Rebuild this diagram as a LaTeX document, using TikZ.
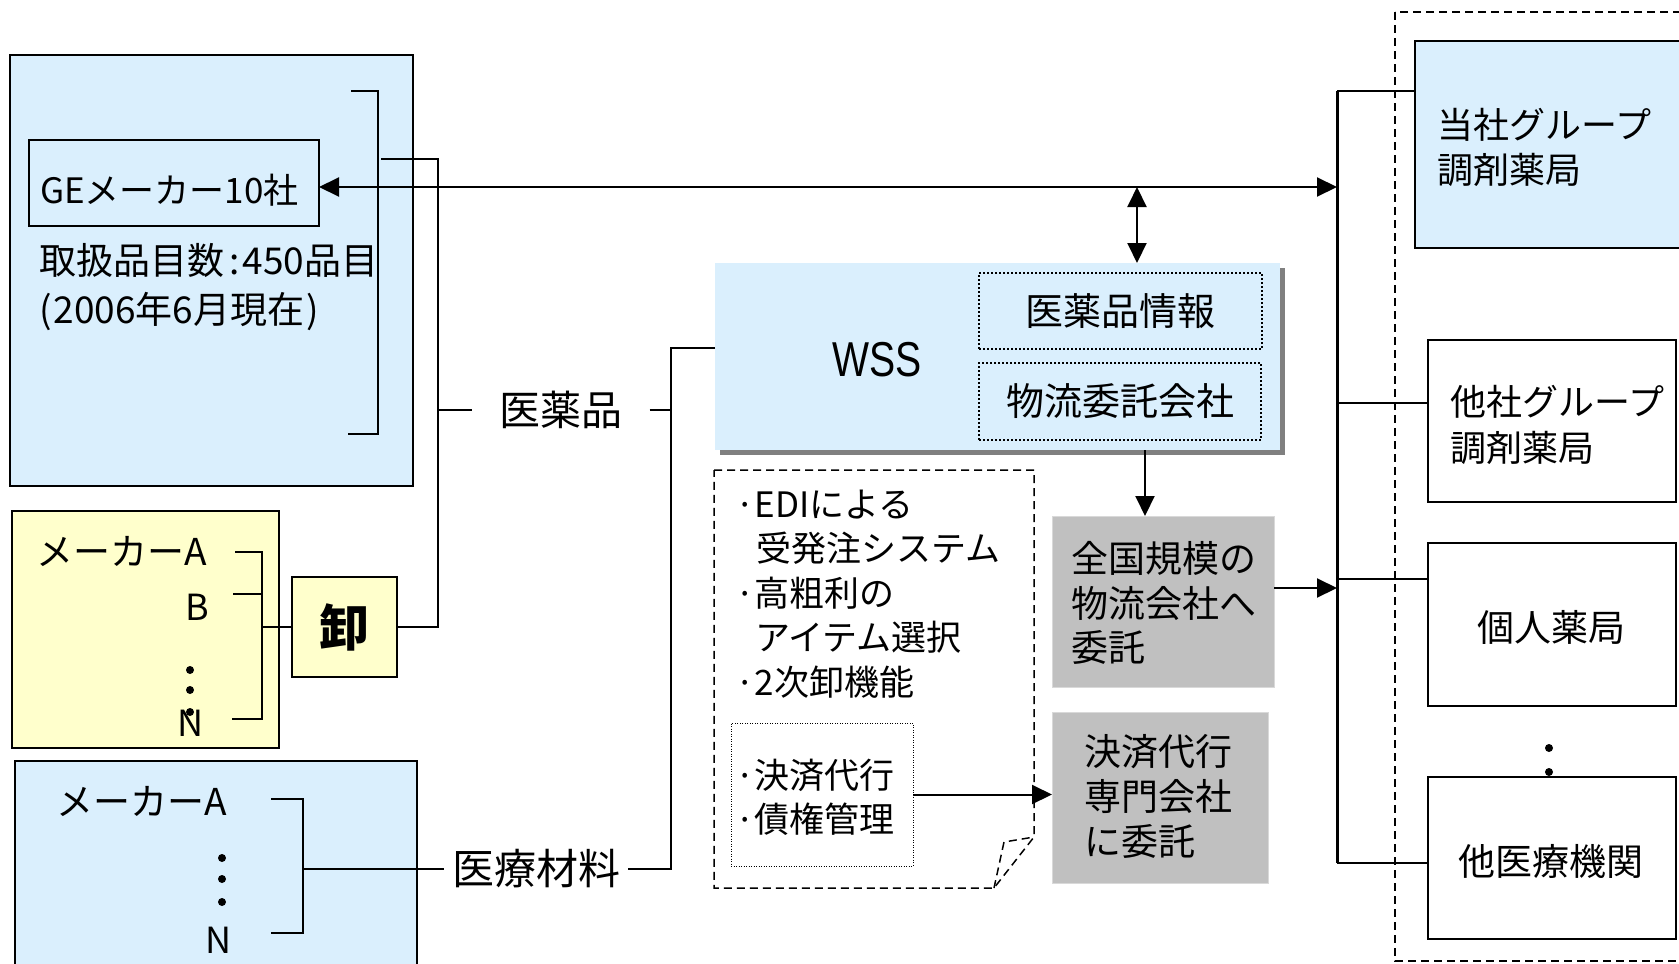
\documentclass[tikz,border=0pt]{standalone}
\usepackage{graphicx}
\usepackage{fontspec}
\setmainfont{Noto Sans CJK JP}
\newfontfamily\arialfont{Liberation Sans}
\usetikzlibrary{arrows.meta}
\definecolor{lblue}{RGB}{218,239,253}
\definecolor{lyel}{RGB}{255,255,204}
\definecolor{gbox}{RGB}{192,192,192}
\definecolor{shad}{RGB}{128,128,128}
\newcommand\fs[2]{\fontsize{#1}{#2}\selectfont}
\tikzset{
  ln/.style={line width=2pt},
  thinln/.style={line width=1.5pt},
  rbox/.style={anchor=north west, inner sep=0pt, outer sep=0pt, line width=2pt},
  arr/.style={line width=2pt, -{Triangle[length=20pt,width=19pt]}},
  darr/.style={line width=2pt, {Triangle[length=20pt,width=19pt]}-{Triangle[length=20pt,width=19pt]}},
  txt/.style={inner sep=0pt, anchor=west, align=left},
  dotbox/.style={draw, line width=2pt, dash pattern=on 2pt off 2pt},
  dashline/.style={line width=1.5pt, dash pattern=on 8pt off 5pt},
  dotdot/.style={fill, circle, inner sep=0pt, minimum size=8pt},
}
\begin{document}
\begin{tikzpicture}[x=1pt,y=-1pt]
\useasboundingbox (0,0) rectangle (1679,964);
\clip (0,0) rectangle (1679,964);

% ---------- left: GE makers
\node[rbox, draw, fill=lblue, minimum width=403pt, minimum height=431pt] (gebig) at (10,55) {};
\node[rbox, draw, minimum width=290pt, minimum height=86pt] (ge) at (29,140) {};
\node[txt, font=\fs{35}{42}] (getxt) at (40,190) {GEメーカー10社};
\node[txt, font=\fs{37}{49}] (geinfo) at (39,287) {取扱品目数\hspace{5pt}:\hspace{3pt}450品目\\(\hspace{2pt}2006年6月現在\hspace{2pt})};
\draw[ln] (351,91) -- (378,91) -- (378,434) -- (348,434);

% ---------- yellow makers + wholesaler
\node[rbox, draw, fill=lyel, minimum width=267pt, minimum height=237pt] (yel) at (12,511) {};
\node[txt, font=\fs{37}{44}] (ymA) at (36,551) {メーカーA};
\node[txt, font=\fs{36}{44}] (ymB) at (185,607) {B};
\node[dotdot] (yd1) at (190,670) {};
\node[dotdot] (yd2) at (190,690) {};
\node[dotdot] (yd3) at (190,712) {};
\node[txt, font=\fs{36}{44}] (ymN) at (177,723) {N};
\node[rbox, draw, fill=lyel, minimum width=105pt, minimum height=100pt, font=\fs{50}{56}\bfseries] (oroshi) at (292,577) {卸};
\draw[thinln] (235,552) -- (262,552) -- (262,719) -- (232,719);
\draw[thinln] (233,594) -- (262,594);
\coordinate (yb) at (262,627);
\draw[ln] (yb) -- (oroshi.west);

% ---------- lower blue makers
\node[rbox, draw, fill=lblue, minimum width=402pt, minimum height=230pt] (bl) at (15,761) {};
\node[txt, font=\fs{37}{44}] (bmA) at (56,801) {メーカーA};
\node[dotdot] (bd1) at (222,858) {};
\node[dotdot] (bd2) at (222,879) {};
\node[dotdot] (bd3) at (222,902) {};
\node[txt, font=\fs{36}{44}] (bmN) at (205,940) {N};
\draw[thinln] (271,799) -- (303,799) -- (303,933) -- (271,933);

% ---------- labels
\node[inner sep=0pt, inner xsep=27pt, font=\fs{41}{46}] (iyaku) at (561,410) {医薬品};
\node[inner sep=0pt, inner xsep=8pt, font=\fs{42}{46}] (iryo) at (536,869) {医療材料};

% ---------- connectors left
\coordinate (gb) at (381,159);
\coordinate (gj) at (438,159);
\draw[ln] (gb) -- (gj) -- (gj |- oroshi.east) -- (oroshi.east);
\draw[ln] (gj |- iyaku.west) -- (iyaku.west);
\draw[ln] (303,869) -- (iryo.west);

% ---------- WSS
\node[rbox, fill=lblue, minimum width=565pt, minimum height=187pt,
      preaction={fill=shad, transform canvas={xshift=5pt,yshift=-5pt}}] (wss) at (715,263) {};
\node[inner sep=0pt, font=\arialfont\fs{49}{52}] (wsstxt) at (877,360) {\scalebox{0.8}[1]{WSS}};
\node[rbox, dotbox, minimum width=283pt, minimum height=76pt, font=\fs{38}{44}] (info) at (979,273) {医薬品情報};
\node[rbox, dotbox, minimum width=282pt, minimum height=77pt, font=\fs{38}{44}] (logi) at (979,363) {物流委託会社};

\coordinate (wj) at (671,348);
\draw[ln] (wj -| wss.west) -- (wj) -- (wj |- iryo.east) -- (iryo.east);
\draw[ln] (iyaku.east) -- (iyaku.east -| wj);

% ---------- note
\draw[dashline] (714,470) -- (1034,470) -- (1034,837) -- (994,888) -- (714,888) -- cycle;
\draw[dashline] (994,888) -- (1004,842) -- (1034,837);
\node[txt, font=\fs{35}{44.5}] (notetxt) at (735,594) {·EDIによる\\\hspace*{21pt}受発注システム\\·高粗利の\\\hspace*{20pt}アイテム選択\\·2次卸機能};
\node[rbox, draw, line width=1pt, dash pattern=on 1pt off 1.5pt, minimum width=182pt, minimum height=143pt] (setl) at (731,723) {};
\node[txt, font=\fs{35}{44}] (setltxt) at (735,797) {·決済代行\\·債権管理};

% ---------- gray boxes
\node[rbox, fill=gbox, draw=gbox!60, line width=1pt, minimum width=222pt, minimum height=171pt] (zen) at (1052,516) {};
\node[txt, font=\fs{37}{44.5}] (zentxt) at (1071,603) {全国規模の\\物流会社へ\\委託};
\node[rbox, fill=gbox, draw=gbox!60, line width=1pt, minimum width=216pt, minimum height=171pt] (kes) at (1052,712) {};
\node[txt, font=\fs{37}{45}] (kestxt) at (1084,796) {決済代行\\専門会社\\に委託};

% ---------- right side
\draw[dashline] (1395,12) rectangle (1720,961);
\node[rbox, draw, fill=lblue, minimum width=300pt, minimum height=207pt] (tosha) at (1415,41) {};
\node[txt, font=\fs{36}{45}] (toshatxt) at (1437,147) {当社グループ\\調剤薬局};
\node[rbox, draw, fill=white, minimum width=248pt, minimum height=162pt] (tasha) at (1428,340) {};
\node[txt, font=\fs{36}{46}] (tashatxt) at (1450,425) {他社グループ\\調剤薬局};
\node[rbox, draw, fill=white, minimum width=248pt, minimum height=163pt] (kojin) at (1428,543) {};
\node[inner sep=0pt, font=\fs{37}{44}] (kojintxt) at (1551,627) {個人薬局};
\node[dotdot] (rd1) at (1549,748) {};
\node[dotdot] (rd2) at (1549,772) {};
\node[rbox, draw, fill=white, minimum width=248pt, minimum height=162pt] (tairyo) at (1428,777) {};
\node[inner sep=0pt, font=\fs{37}{44}] (tairyotxt) at (1551,861) {他医療機関};

\coordinate (bus1) at (1337,91);
\coordinate (bus2) at (1337,863);
\coordinate (br2) at (1337,403);
\coordinate (br3) at (1337,579);
\draw[line width=3pt] (bus1) -- (bus2);
\draw[ln] (bus1) -- (bus1 -| tosha.west);
\draw[thinln] (br2) -- (br2 -| tasha.west);
\draw[thinln] (br3) -- (br3 -| kojin.west);
\draw[thinln] (bus2) -- (bus2 -| tairyo.west);

% ---------- arrows
\coordinate (da) at (1137,187);
\draw[darr] (ge.east |- da) -- (da -| bus1);
\draw[darr] (da) -- (da |- wss.north);
\coordinate (dn) at (1145,450);
\draw[arr] (dn |- wss.south) -- (dn |- zen.north);
\coordinate (zj) at (1274,588);
\draw[arr] (zj) -- (zj -| bus1);
\draw[arr] (setl.east) -- (setl.east -| kes.west);
\end{tikzpicture}
\end{document}
